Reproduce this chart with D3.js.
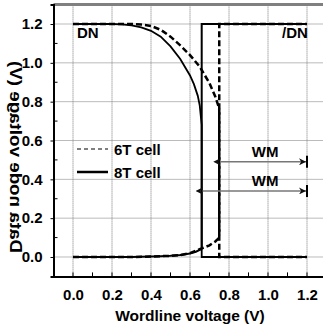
<!DOCTYPE html>
<html>
<head>
<meta charset="utf-8">
<script src="https://cdn.jsdelivr.net/npm/d3@7"></script>
<style>
  body { margin: 0; background: #fff; }
  text { font-family: "Liberation Sans", Arial, sans-serif; font-weight: bold; fill: #000; }
</style>
</head>
<body>
<div id="chart"></div>
<script>
var svgWidth = 323;
var svgHeight = 331;

// data
var xTicks = [0.0, 0.2, 0.4, 0.6, 0.8, 1.0, 1.2];
var yTicks = [0.0, 0.2, 0.4, 0.6, 0.8, 1.0, 1.2];
var minorTicks = [0.1, 0.3, 0.5, 0.7, 0.9, 1.1];

var dn8tX = [0.0, 0.2, 0.25, 0.3, 0.35, 0.4, 0.45, 0.5, 0.55, 0.6, 0.62, 0.64, 0.65, 0.66, 0.66, 1.2];
var dn8tY = [1.2, 1.2, 1.198, 1.193, 1.183, 1.165, 1.135, 1.085, 1.02, 0.935, 0.89, 0.83, 0.78, 0.68, 0.0, 0.0];
var ndn8tX = [0.0, 0.3, 0.4, 0.45, 0.5, 0.55, 0.6, 0.63, 0.65, 0.66, 0.66, 1.2];
var ndn8tY = [0.0, 0.0, 0.002, 0.004, 0.006, 0.01, 0.018, 0.027, 0.037, 0.045, 1.2, 1.2];

var dn6tX = [0.0, 0.3, 0.35, 0.4, 0.45, 0.5, 0.55, 0.6, 0.65, 0.7, 0.73, 0.745, 0.75, 0.75, 1.2];
var dn6tY = [1.2, 1.2, 1.197, 1.19, 1.17, 1.135, 1.09, 1.04, 0.98, 0.895, 0.825, 0.78, 0.76, 0.0, 0.0];
var ndn6tX = [0.0, 0.3, 0.4, 0.45, 0.5, 0.55, 0.6, 0.65, 0.7, 0.73, 0.745, 0.75, 0.75, 1.2];
var ndn6tY = [0.0, 0.0, 0.002, 0.004, 0.006, 0.01, 0.02, 0.04, 0.06, 0.08, 0.095, 0.1, 1.2, 1.2];

// write margin arrows: [start, end, level]
var wm6t = [0.75, 1.2, 0.49];
var wm8t = [0.66, 1.2, 0.34];

var svg = d3.select("#chart")
  .append("svg")
  .attr("width", svgWidth)
  .attr("height", svgHeight);

var x = d3.scaleLinear().domain([-0.1, 1.3]).range([53.5, 326.5]);
var y = d3.scaleLinear().domain([-0.1, 1.3]).range([276.4, 4.6]);

var defs = svg.append("defs");
["l", "r"].forEach(function(side) {
  defs.append("marker")
    .attr("id", "arrow-" + side)
    .attr("viewBox", "0 0 10 10")
    .attr("refX", side == "r" ? 10 : 0)
    .attr("refY", 5)
    .attr("markerWidth", 7)
    .attr("markerHeight", 7)
    .attr("markerUnits", "userSpaceOnUse")
    .attr("orient", "auto-start-reverse")
    .append("path")
    .attr("d", "M0,0 L10,5 L0,10 L3,5 Z")
    .attr("fill", "#111");
});

// grid
svg.append("g").selectAll("line")
  .data(xTicks).enter().append("line")
  .attr("x1", d => x(d)).attr("x2", d => x(d))
  .attr("y1", y(1.3)).attr("y2", y(-0.1))
  .attr("stroke", "#777").attr("stroke-width", 1).attr("stroke-dasharray", "1,1");
svg.append("g").selectAll("line")
  .data(yTicks).enter().append("line")
  .attr("x1", x(-0.1)).attr("x2", x(1.3))
  .attr("y1", d => y(d)).attr("y2", d => y(d))
  .attr("stroke", "#777").attr("stroke-width", 1).attr("stroke-dasharray", "1,1");

// frame: top is grey, left and bottom black
svg.append("line")
  .attr("x1", x(-0.1)).attr("x2", svgWidth)
  .attr("y1", y(1.3)).attr("y2", y(1.3))
  .attr("stroke", "#808080").attr("stroke-width", 3);

var bottomAxis = d3.axisBottom(x).tickValues(xTicks).tickSize(0).tickPadding(13).tickFormat(d3.format(".1f"));
var leftAxis = d3.axisLeft(y).tickValues(yTicks).tickSize(3).tickPadding(8).tickFormat(d3.format(".1f"));

var gx = svg.append("g")
  .attr("transform", `translate(0, ${y(-0.1)})`)
  .call(bottomAxis);
var gy = svg.append("g")
  .attr("transform", `translate(${x(-0.1)}, 0)`)
  .call(leftAxis);

[gx, gy].forEach(function(g) {
  g.select(".domain").attr("stroke", "#000").attr("stroke-width", 2);
  g.selectAll("text").style("font-size", "15px").style("font-family", "Liberation Sans, Arial, sans-serif").style("font-weight", "bold");
});

// inside tick marks
svg.append("g").selectAll("line")
  .data(xTicks.concat(minorTicks)).enter().append("line")
  .attr("x1", d => x(d)).attr("x2", d => x(d))
  .attr("y1", y(-0.1)).attr("y2", y(-0.1) - 4)
  .attr("stroke", "#000").attr("stroke-width", 1);
svg.append("g").selectAll("line")
  .data(minorTicks).enter().append("line")
  .attr("x1", x(-0.1)).attr("x2", x(-0.1) + 4)
  .attr("y1", d => y(d)).attr("y2", d => y(d))
  .attr("stroke", "#000").attr("stroke-width", 1);

// curves
var line = d3.line().x(d => x(d[0])).y(d => y(d[1]));
function pts(xs, ys) { return xs.map((v, i) => [v, ys[i]]); }

svg.append("path").datum(pts(ndn8tX, ndn8tY))
  .attr("d", line).attr("fill", "none").attr("stroke", "#000").attr("stroke-width", 2);
svg.append("path").datum(pts(dn8tX, dn8tY))
  .attr("d", line).attr("fill", "none").attr("stroke", "#000").attr("stroke-width", 1.8);
svg.append("path").datum(pts(ndn6tX, ndn6tY))
  .attr("d", line).attr("fill", "none").attr("stroke", "#000").attr("stroke-width", 2.5)
  .attr("stroke-dasharray", "6,3");
svg.append("path").datum(pts(dn6tX, dn6tY))
  .attr("d", line).attr("fill", "none").attr("stroke", "#000").attr("stroke-width", 2.5)
  .attr("stroke-dasharray", "6,3");

// WM arrows
[wm6t, wm8t].forEach(function(a) {
  svg.append("line")
    .attr("x1", x(a[0]) + 1).attr("x2", x(a[1]) - 1)
    .attr("y1", y(a[2])).attr("y2", y(a[2]))
    .attr("stroke", "#777").attr("stroke-width", 1.5)
    .attr("marker-start", "url(#arrow-l)")
    .attr("marker-end", "url(#arrow-r)");
  svg.append("line")
    .attr("x1", x(a[1])).attr("x2", x(a[1]))
    .attr("y1", y(a[2]) - 6).attr("y2", y(a[2]) + 6)
    .attr("stroke", "#000").attr("stroke-width", 2);
  svg.append("text")
    .attr("x", x(0.985))
    .attr("y", y(a[2]) - 5)
    .attr("text-anchor", "middle")
    .style("font-size", "15px")
    .text("WM");
});

// labels
svg.append("text").attr("x", 77).attr("y", y(1.2) + 14).style("font-size", "15px").text("DN");
svg.append("text").attr("x", 282).attr("y", y(1.2) + 14).style("font-size", "15px").text("/DN");

// legend
svg.append("line").attr("x1", 77).attr("x2", 108).attr("y1", 149).attr("y2", 149)
  .attr("stroke", "#555").attr("stroke-width", 1.5).attr("stroke-dasharray", "4,3");
svg.append("text").attr("x", 114).attr("y", 155).style("font-size", "15px").text("6T cell");
svg.append("line").attr("x1", 77).attr("x2", 108).attr("y1", 172).attr("y2", 172)
  .attr("stroke", "#000").attr("stroke-width", 2.5);
svg.append("text").attr("x", 114).attr("y", 178).style("font-size", "15px").text("8T cell");

// axis titles
svg.append("text")
  .attr("x", 190).attr("y", 321)
  .attr("text-anchor", "middle")
  .style("font-size", "15.5px")
  .text("Wordline voltage  (V)");

// y title is printed mirrored in the original
svg.append("text")
  .attr("transform", "translate(10, 157) rotate(90) scale(-1, 1)")
  .attr("text-anchor", "middle")
  .style("font-size", "16px")
  .attr("textLength", 192)
  .attr("lengthAdjust", "spacingAndGlyphs")
  .text("Data node voltage (V)");
</script>
</body>
</html>
